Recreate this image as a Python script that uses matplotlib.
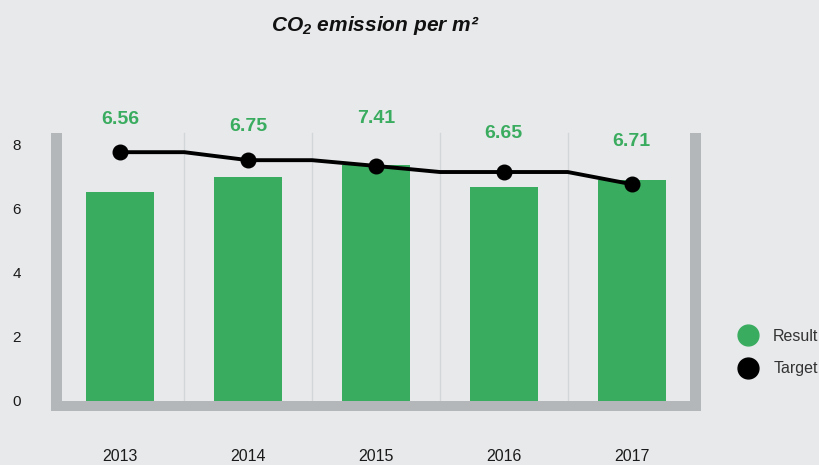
import matplotlib
matplotlib.use('Agg')
import matplotlib.pyplot as plt
from matplotlib.patches import Rectangle
from matplotlib.lines import Line2D
import numpy as np

# ---------------- data ----------------
years = ['2013', '2014', '2015', '2016', '2017']
result = [6.52, 6.98, 7.37, 6.66, 6.89]
result_labels = ['6.56', '6.75', '7.41', '6.65', '6.71']
target = [7.76, 7.51, 7.33, 7.14, 6.76]
# target line sampled at half-category steps (as drawn in the picture)
target_path = [7.76, 7.76, 7.51, 7.51, 7.33, 7.14, 7.14, 7.14, 6.76]
yticks = [0, 2, 4, 6, 8]

# ---------------- layout / style ----------------
label_y = [8.79, 8.56, 8.80, 8.35, 8.09]
BG = '#e8e9eb'
GREEN = '#3aac5f'
GREY = '#b3b7ba'
GRID = '#d2d6d9'
WALL_TOP = 8.36

plt.rcParams['font.family'] = ['Liberation Sans', 'DejaVu Sans']
plt.rcParams['mathtext.default'] = 'regular'

fig = plt.figure(figsize=(8.19, 4.65), dpi=100, facecolor=BG)
ax = fig.add_axes([50.1 / 819, 1 - 411.7 / 465, 651.8 / 819, (411.7 - 112.5) / 465])
ax.set_facecolor(BG)
x = np.arange(len(years))
ax.set_xlim(-0.55, 4.55)
ax.set_ylim(-0.35, 9.0)

for b in x[:-1] + 0.5:
    ax.plot([b, b], [0, WALL_TOP], color=GRID, lw=1, zorder=1)

ax.bar(x, result, width=0.532, color=GREEN, zorder=2, linewidth=0)

ax.plot(np.arange(len(target_path)) / 2, target_path, color='black', lw=2.8,
        zorder=4, solid_joinstyle='round', solid_capstyle='round')
ax.plot(x, target, 'o', color='black', ms=10.5, zorder=5)

ax.add_patch(Rectangle((-0.543, -0.33), 5.086, 0.33, facecolor=GREY, lw=0, zorder=3, clip_on=False))
ax.add_patch(Rectangle((-0.543, 0), 0.086, WALL_TOP, facecolor=GREY, lw=0, zorder=3, clip_on=False))
ax.add_patch(Rectangle((4.457, 0), 0.086, WALL_TOP, facecolor=GREY, lw=0, zorder=3, clip_on=False))

for xi, lab, ly in zip(x, result_labels, label_y):
    ax.text(xi, ly, lab, ha='center', va='center', fontsize=14, fontweight='bold', color=GREEN)

ax.set_yticks(yticks)
ax.set_xticks(x, years)
ax.tick_params(axis='both', length=0, labelcolor='#1a1a1a')
ax.tick_params(axis='y', pad=21, labelsize=11)
ax.tick_params(axis='x', pad=27, labelsize=11.5)
for s in ax.spines.values():
    s.set_visible(False)

fig.text(375 / 819, 1 - 30.7 / 465, 'CO$_2$ emission per m\u00b2', ha='center', va='baseline',
         fontsize=15, fontweight='bold', fontstyle='italic', color='#111111')

handles = [Line2D([], [], marker='o', ls='', color=GREEN, ms=15),
           Line2D([], [], marker='o', ls='', color='black', ms=15)]
fig.legend(handles, ['Result', 'Target'], loc='center left',
           bbox_to_anchor=(731.7 / 819, 1 - 352.5 / 465), frameon=False, fontsize=11.5,
           handlelength=2, handletextpad=0.6, labelspacing=1.1, borderpad=0,
           borderaxespad=0, labelcolor='#333333')

fig.savefig('out.png', dpi=100, facecolor=BG)
